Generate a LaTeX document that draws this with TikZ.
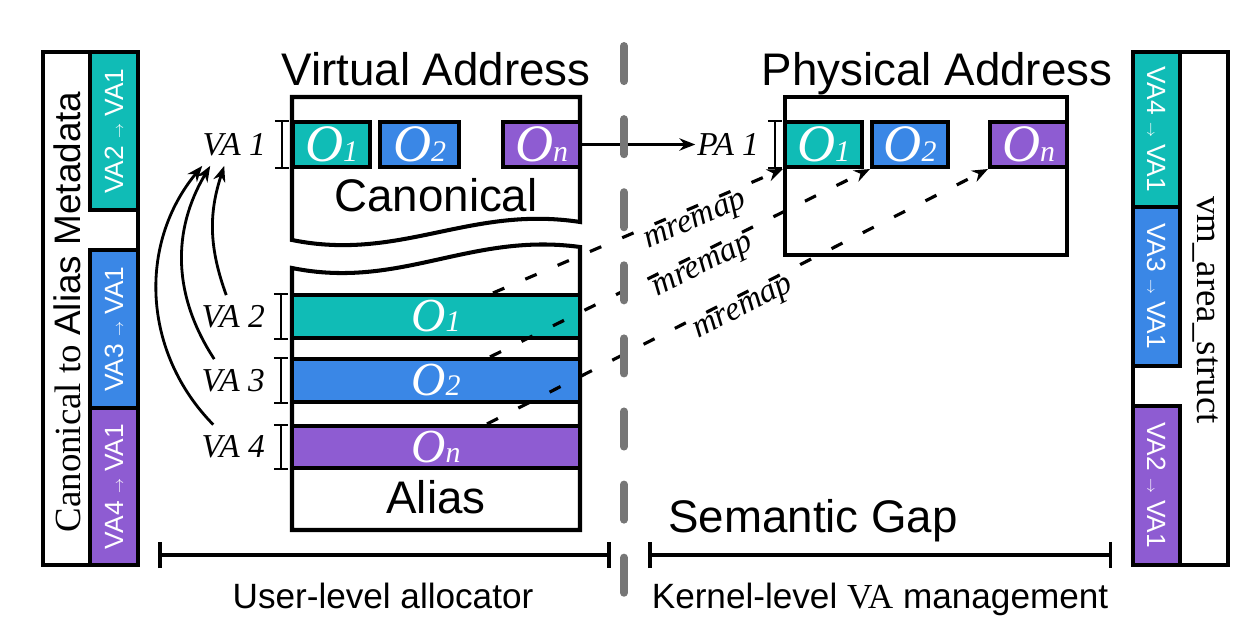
\documentclass[tikz,border=0pt]{standalone}
\usepackage{fontspec}
\setmainfont{Liberation Serif}
\setsansfont{Liberation Sans}
\usetikzlibrary{arrows.meta,positioning}

\definecolor{objteal}{RGB}{16,188,182}
\definecolor{objblue}{RGB}{58,135,230}
\definecolor{objpurple}{RGB}{142,92,210}
\definecolor{gapgray}{RGB}{118,118,118}

\newcommand{\objname}[1]{\textit{O}{\fontsize{17}{17}\selectfont\textit{#1}}}
\newcommand{\maprow}[2]{VA#1 {\fontsize{8}{8}\selectfont$\rightarrow$} VA#2}

\begin{document}
\begin{tikzpicture}[x=0.02cm,y=0.02cm,>={Stealth[length=9pt,width=7pt]},
    box/.style={draw,line width=2.3pt},
    obj node/.style={draw,line width=2.3pt,inner sep=0pt,minimum height=0.9cm,text=white,font=\fontsize{30}{30}\selectfont},
    stripe/.style={draw,line width=2.3pt,inner sep=0pt,minimum width=5.76cm,text=white,font=\fontsize{27}{27}\selectfont},
    tag/.style={draw,line width=2.3pt,inner sep=0pt,minimum height=0.95cm,text=white,font=\sffamily\fontsize{15}{15}\selectfont},
    va label/.style={inner sep=1pt,font=\fontsize{19}{19}\selectfont\itshape},
    title/.style={font=\sffamily\fontsize{26}{26}\selectfont},
    caption/.style={font=\sffamily\fontsize{20}{20}\selectfont},
    vabar/.style={{Bar[width=8pt]}-{Bar[width=8pt]},line width=1.1pt},
    span/.style={{Bar[width=15pt]}-{Bar[width=15pt]},line width=2pt},
    map arrow/.style={->,line width=1.6pt},
    remap/.style={->,line width=1.8pt,dash pattern=on 7pt off 13pt},
    remap label/.style={sloped,anchor=north,inner sep=1.5pt,font=\fontsize{19}{19}\selectfont\itshape}]

  \useasboundingbox (0,0) rectangle (1256,636);

  % metadata kept by the allocator
  \node[box,minimum width=1.9cm,minimum height=10.26cm] (meta) at (90.5,327.5) {};
  \node[rotate=90,font=\fontsize{21}{21}\selectfont] (metatext) at (67,324) {Canonical to {\sffamily Alias Metadata}};
  \node[tag,fill=objteal,rotate=90,minimum width=3.16cm] (lt1) at (114,505) {\maprow{2}{1}};
  \node[tag,fill=objblue,rotate=90,minimum width=3.16cm] (lt2) at (114,307) {\maprow{3}{1}};
  \node[tag,fill=objpurple,rotate=90,minimum width=3.14cm] (lt3) at (114,149.5) {\maprow{4}{1}};

  % kernel side
  \node[box,minimum width=1.9cm,minimum height=10.26cm] (vmas) at (1180.5,327.5) {};
  \node[rotate=-90,font=\fontsize{21}{21}\selectfont] (vmastext) at (1205,326) {vm\_area\_struct};
  \node[tag,fill=objteal,rotate=-90,minimum width=3.1cm] (rt1) at (1156.5,506.5) {\maprow{4}{1}};
  \node[tag,fill=objblue,rotate=-90,minimum width=3.18cm] (rt2) at (1156.5,349.5) {\maprow{3}{1}};
  \node[tag,fill=objpurple,rotate=-90,minimum width=3.18cm] (rt3) at (1156.5,150.5) {\maprow{2}{1}};

  % virtual address space
  \node[title,anchor=base] (vtitle) at (436,550) {Virtual Address};
  \draw[box] (292,396) -- (292,539) -- (580,539) -- (580,414) .. controls (470,431) and (400,374) .. (292,396) -- cycle;
  \draw[box] (292,368) .. controls (400,346) and (470,404) .. (580,389) -- (580,106) -- (292,106) -- cycle;
  \node[obj node,fill=objteal,minimum width=1.54cm] (co1) at (331.5,491.5) {\objname{1}};
  \node[obj node,fill=objblue,minimum width=1.58cm] (co2) at (419.5,491.5) {\objname{2}};
  \node[obj node,fill=objpurple,minimum width=1.54cm] (con) at (541.5,491.5) {\objname{n}};
  \node[title,anchor=base] (canonlabel) at (436,424) {Canonical};
  \node[stripe,fill=objteal,minimum height=0.86cm] (ao1) at (436,319.5) {\objname{1}};
  \node[stripe,fill=objblue,minimum height=0.86cm] (ao2) at (436,255.5) {\objname{2}};
  \node[stripe,fill=objpurple,minimum height=0.84cm] (aon) at (436,189) {\objname{n}};
  \node[title,anchor=base] (aliaslabel) at (436,123) {Alias};

  \node[va label] (va1) [left=0.46cm of co1] {VA 1};
  \node[va label] (va2) [left=0.46cm of ao1] {VA 2};
  \node[va label] (va3) [left=0.46cm of ao2] {VA 3};
  \node[va label] (va4) [left=0.46cm of aon] {VA 4};
  \draw[vabar] ([xshift=-0.18cm]co1.north west) -- ([xshift=-0.18cm]co1.south west);
  \draw[vabar] ([xshift=-0.18cm]ao1.north west) -- ([xshift=-0.18cm]ao1.south west);
  \draw[vabar] ([xshift=-0.18cm]ao2.north west) -- ([xshift=-0.18cm]ao2.south west);
  \draw[vabar] ([xshift=-0.18cm]aon.north west) -- ([xshift=-0.18cm]aon.south west);
  \draw[map arrow] ([shift={(-0.14cm,0.16cm)}]va2.north) to[bend left=19] ([shift={(-0.2cm,-0.16cm)}]va1.south);
  \draw[map arrow] ([shift={(-0.38cm,0.16cm)}]va3.north) to[bend left=32] ([shift={(-0.48cm,-0.16cm)}]va1.south);
  \draw[map arrow] ([shift={(-0.4cm,0.18cm)}]va4.north) to[bend left=42] ([shift={(-0.64cm,-0.16cm)}]va1.south);

  % physical address space
  \node[title,anchor=base] (ptitle) at (937,550) {Physical Address};
  \node[box,minimum width=5.64cm,minimum height=3.16cm] (phys) at (926,460) {};
  \node[obj node,fill=objteal,minimum width=1.54cm] (po1) at (823.5,491.5) {\objname{1}};
  \node[obj node,fill=objblue,minimum width=1.52cm] (po2) at (910,491.5) {\objname{2}};
  \node[obj node,fill=objpurple,minimum width=1.54cm] (pon) at (1028.5,491.5) {\objname{n}};
  \node[va label] (pa1) [left=0.44cm of po1] {PA 1};
  \draw[vabar] ([xshift=-0.16cm]po1.north west) -- ([xshift=-0.16cm]po1.south west);
  \draw[map arrow] (con.east) -- (pa1.west);

  \draw[remap] ([xshift=1.14cm]ao1.north) -- (po1.south west) node[remap label,pos=0.68] {mremap};
  \draw[remap] ([xshift=1.08cm]ao2.north) -- (po2.south west) node[remap label,pos=0.545] {mremap};
  \draw[remap] ([xshift=1.02cm]aon.north) -- (pon.south west) node[remap label,pos=0.5] {mremap};

  % the gap between the two sides
  \draw[gapgray,line width=4.5pt,line cap=round,dash pattern=on 20pt off 21.6pt] (624,590) -- (624,43);
  \node[title,anchor=base] (gaplabel) at (813,104) {Semantic Gap};

  \coordinate (userl) at (158,81);
  \coordinate (userr) at (611,81);
  \coordinate (kernl) at (648,81);
  \coordinate (kernr) at (1112,81);
  \draw[span] (userl) -- (userr);
  \draw[span] (kernl) -- (kernr);
  \node[caption,anchor=base] (userlabel) at (383,28) {User-level allocator};
  \node[caption,anchor=base] (kernlabel) at (880,28) {Kernel-level {\rmfamily VA} management};
\end{tikzpicture}
\end{document}
